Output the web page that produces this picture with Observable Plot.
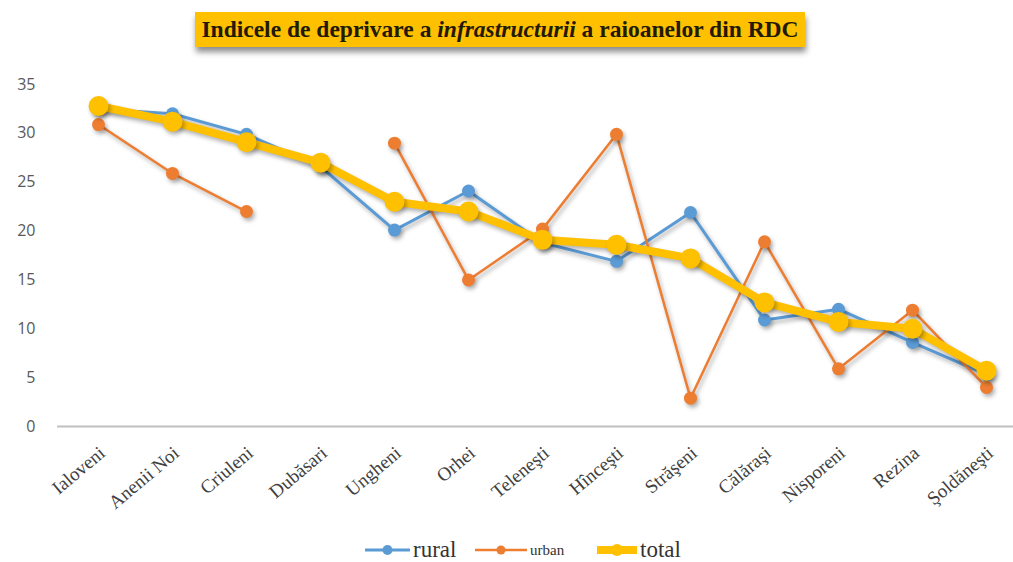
<!DOCTYPE html>
<html>
<head>
<meta charset="utf-8">
<script src="https://cdn.jsdelivr.net/npm/d3@7"></script>
<script src="https://cdn.jsdelivr.net/npm/@observablehq/plot@0.6"></script>
<style>
  html, body { margin: 0; padding: 0; background: #fff; }
  #wrap { position: relative; width: 1013px; height: 562px; overflow: hidden; background: #fff; }
  #title {
    position: absolute; left: 195px; top: 12px; width: 610px; height: 35px;
    background: #FFC000; box-shadow: 1px 5px 6px rgba(0,0,0,0.45);
    font-family: "Liberation Serif", "DejaVu Serif", serif; font-weight: bold; font-size: 23.5px;
    color: #231a05; text-align: center; line-height: 35px; white-space: nowrap;
  }
  #chart { position: absolute; left: 0; top: 60px; }
  #legend {
    position: absolute; left: 0; top: 538px; width: 1013px; height: 24px;
    font-family: "Liberation Serif", serif; color: #333;
  }
  #legend .item { position: absolute; top: 0; height: 24px; display: flex; align-items: center; }
  #chart svg g[aria-label="line"], #chart svg g[aria-label="dot"] {
    filter: drop-shadow(2px 3px 2px rgba(0,0,0,0.3));
  }
</style>
</head>
<body>
<div id="wrap">
  <div id="title">Indicele de deprivare a <i>infrastructurii</i> a raioanelor din RDC</div>
  <div id="chart"></div>
  <div id="legend"></div>
</div>
<script>
const categories = ["Ialoveni", "Anenii Noi", "Criuleni", "Dubăsari", "Ungheni", "Orhei", "Teleneşti", "Hînceşti", "Străşeni", "Călăraşi", "Nisporeni", "Rezina", "Şoldăneşti"];
const rural = [32.5, 32.0, 29.9, 26.6, 20.1, 24.1, 18.8, 16.9, 21.9, 10.9, 12.0, 8.6, 5.3];
const urban = [30.9, 25.9, 22.0, null, 29.0, 15.0, 20.2, 29.9, 2.9, 18.9, 5.9, 11.9, 4.0];
const total = [32.8, 31.2, 29.1, 27.0, 23.0, 22.0, 19.1, 18.6, 17.2, 12.7, 10.7, 10.0, 5.7];
const yTicks = [0, 5, 10, 15, 20, 25, 30, 35];
const seriesNames = ["rural", "urban", "total"];
const seriesColors = ["#5B9BD5", "#ED7D31", "#FFC000"];

const seriesValues = {rural, urban, total};
const rows = name => categories.map((c, i) => ({cat: c, value: seriesValues[name][i], series: name}));

const style = {
  rural: {stroke: "#5B9BD5", sw: 3, r: 6.5},
  urban: {stroke: "#ED7D31", sw: 2.5, r: 6.5},
  total: {stroke: "#FFC000", sw: 8, r: 10}
};

const marks = [
  Plot.ruleY([0], {stroke: "#BFBFBF", strokeWidth: 2, insetLeft: -36, insetRight: -22}),
  Plot.axisY({ticks: yTicks, tickSize: 0, tickPadding: 58, fontSize: 16, fontFamily: "Open Sans", color: "#595959", label: null}),
  Plot.axisX({tickRotate: -40, tickSize: 0, tickPadding: 24, dx: 4, fontSize: 19, fontFamily: "Liberation Serif", color: "#404040", label: null})
];
for (const name of seriesNames) {
  const s = style[name];
  const data = rows(name);
  marks.push(Plot.line(data, {x: "cat", y: "value", stroke: s.stroke, strokeWidth: s.sw, curve: "linear"}));
  marks.push(Plot.dot(data.filter(d => d.value != null), {x: "cat", y: "value", fill: s.stroke, r: s.r, stroke: "none"}));
}

const chart = Plot.plot({
  width: 1013,
  height: 466,
  marginTop: 24,
  marginBottom: 100,
  marginLeft: 93,
  marginRight: 22,
  style: {background: "transparent", overflow: "visible"},
  x: {type: "point", domain: categories, padding: 0},
  y: {domain: [0, 35]},
  marks
});
document.getElementById("chart").appendChild(chart);

// legend
const legendItems = [
  {name: "rural", color: seriesColors[0], left: 365, lw: 45, sw: 3, r: 5, fs: 23},
  {name: "urban", color: seriesColors[1], left: 475, lw: 52, sw: 2.5, r: 4.5, fs: 15},
  {name: "total", color: seriesColors[2], left: 597, lw: 40, sw: 8, r: 6, fs: 23}
];
const legend = d3.select("#legend");
for (const it of legendItems) {
  const item = legend.append("div").attr("class", "item").style("left", it.left + "px");
  const svg = item.append("svg").attr("width", it.lw).attr("height", 16);
  svg.append("line").attr("x1", 0).attr("x2", it.lw).attr("y1", 8).attr("y2", 8)
    .attr("stroke", it.color).attr("stroke-width", it.sw);
  svg.append("circle").attr("cx", it.lw / 2).attr("cy", 8).attr("r", it.r).attr("fill", it.color);
  item.append("span").text(it.name).style("font-size", it.fs + "px").style("margin-left", "3px");
}
</script>
</body>
</html>
